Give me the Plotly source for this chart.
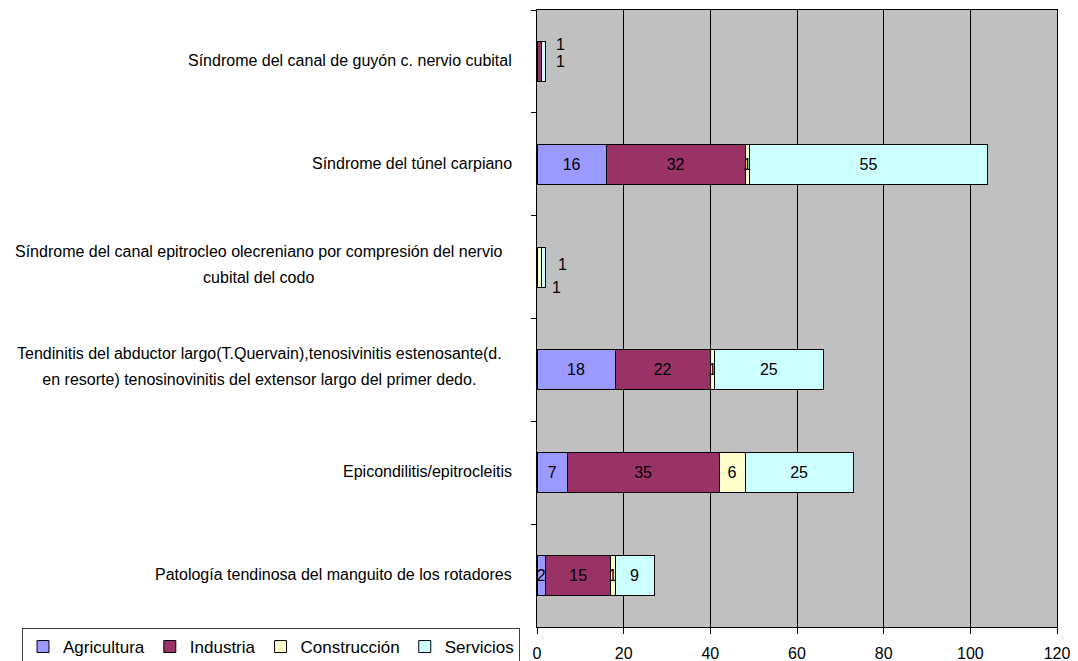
import plotly.graph_objects as go

categorias = [
    ["Síndrome del canal de guyón c. nervio cubital"],
    ["Síndrome del túnel carpiano"],
    ["Síndrome del canal epitrocleo olecreniano por compresión del nervio",
     "cubital del codo"],
    ["Tendinitis del abductor largo(T.Quervain),tenosivinitis estenosante(d.",
     "en resorte) tenosinovinitis del extensor largo del primer dedo."],
    ["Epicondilitis/epitrocleitis"],
    ["Patología tendinosa del manguito de los rotadores"],
]
ids = ["c1", "c2", "c3", "c4", "c5", "c6"]

agricultura = [0, 16, 0, 18, 7, 2]
industria = [1, 32, 0, 22, 35, 15]
construccion = [0, 1, 1, 1, 6, 1]
servicios = [1, 55, 1, 25, 25, 9]

series = [
    ("Agricultura", agricultura, "#9999FF"),
    ("Industria", industria, "#993366"),
    ("Construcción", construccion, "#FFFFCC"),
    ("Servicios", servicios, "#CCFFFF"),
]

x_ticks = [0, 20, 40, 60, 80, 100, 120]

FONT = "Liberation Sans, Arial, sans-serif"
FS = 16

totales = [sum(v) for v in zip(agricultura, industria, construccion, servicios)]
pequenas = [i for i, t in enumerate(totales) if t <= 2]

fig = go.Figure()
for nombre, vals, color in series:
    textos = []
    for i, v in enumerate(vals):
        if v == 0 or i in pequenas:
            textos.append("")
        else:
            textos.append(str(v))
    fig.add_trace(go.Bar(
        y=ids, x=vals, name=nombre, orientation="h",
        marker=dict(color=color, line=dict(color="black", width=1)),
        text=textos, textposition="inside", insidetextanchor="middle",
        textangle=0, constraintext="none",
        textfont=dict(color="black", size=FS, family=FONT),
        hoverinfo="x+name",
    ))

# etiquetas de barras muy pequeñas, fuera a la derecha
desplaz = {0: [(8, 17), (8, 0)], 2: [(10, 3), (4, -20)]}
anots = []
for i in pequenas:
    k = 0
    for nombre, vals, color in series:
        if vals[i] > 0:
            dx, dy = desplaz.get(i, [(8, 10), (8, -10)])[k]
            anots.append(dict(
                x=totales[i], y=ids[i], xref="x", yref="y", text=str(vals[i]),
                showarrow=False, xanchor="left", xshift=dx, yshift=dy,
                font=dict(color="black", size=FS, family=FONT),
            ))
            k += 1

# rótulos de categoría; fuente mayor en la anotación para más interlineado
for cid, lineas in zip(ids, categorias):
    if len(lineas) == 1:
        anots.append(dict(
            x=0, y=cid, xref="paper", yref="y", text=lineas[0], showarrow=False,
            xanchor="right", xshift=-23, yshift=1,
            font=dict(color="black", size=FS, family=FONT),
        ))
    else:
        texto = "<br>".join("<span style='font-size:%dpx'>%s</span>" % (FS, l) for l in lineas)
        anots.append(dict(
            x=0, y=cid, xref="paper", yref="y", text=texto,
            showarrow=False, xanchor="right", align="center",
            xshift=-33, yshift=3,
            font=dict(color="black", size=20, family=FONT),
        ))

# la página añade 8 px de margen al cuerpo
fig.update_layout(
    width=1078, height=661,
    margin=dict(l=529, r=29, t=2, b=42, autoexpand=False),
    barmode="stack", bargap=0.61,
    plot_bgcolor="#C0C0C0", paper_bgcolor="white",
    font=dict(family=FONT, size=FS, color="black"),
    annotations=anots,
    legend=dict(
        orientation="h", traceorder="normal",
        xref="container", yref="container",
        x=14 / 1078, y=1 - 620 / 661, xanchor="left", yanchor="top",
        bordercolor="#404040", borderwidth=1, bgcolor="white",
        font=dict(size=17, family=FONT, color="black"),
    ),
    xaxis=dict(
        range=[0, 120], tickvals=x_ticks, ticktext=[str(t) for t in x_ticks],
        showgrid=True, gridcolor="black", gridwidth=1,
        showline=True, linecolor="black", linewidth=1, mirror=True,
        ticks="outside", ticklen=6, tickcolor="black", zeroline=False,
        ticklabelstandoff=6,
    ),
    yaxis=dict(
        categoryorder="array", categoryarray=ids, autorange="reversed",
        showticklabels=False, showgrid=False,
        showline=True, linecolor="black", linewidth=1, mirror=True,
        ticks="outside", tickson="boundaries", ticklen=5, tickcolor="black",
    ),
)

fig.write_html("out.html")
